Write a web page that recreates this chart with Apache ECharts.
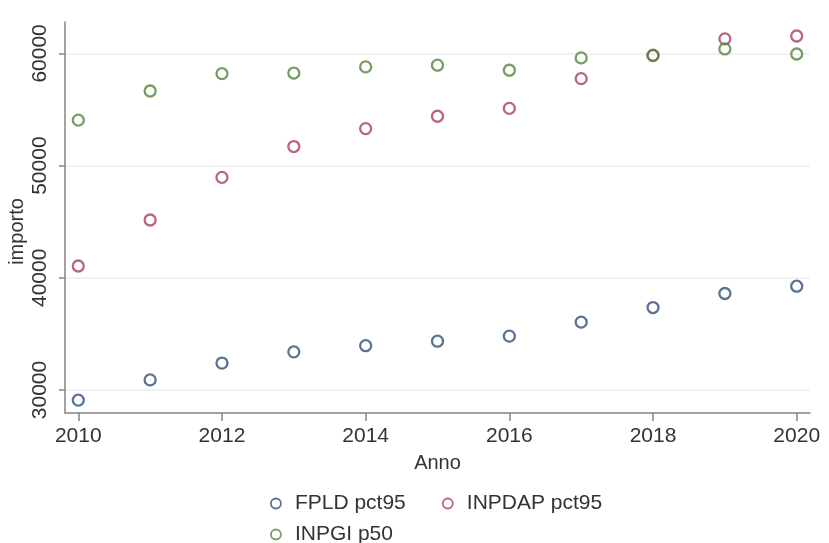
<!DOCTYPE html>
<html>
<head>
<meta charset="utf-8">
<script src="https://cdn.jsdelivr.net/npm/echarts@6/dist/echarts.min.js"></script>
<style>html,body{margin:0;padding:0;background:#fff}#c{width:829px;height:543px}</style>
</head>
<body>
<div id="c"></div>
<script>
var years = [2010, 2011, 2012, 2013, 2014, 2015, 2016, 2017, 2018, 2019, 2020];
var fpldPct95 = [29100, 30900, 32400, 33400, 33950, 34350, 34800, 36050, 37350, 38600, 39250];
var inpdapPct95 = [41050, 45150, 48950, 51700, 53300, 54400, 55100, 57750, 59800, 61300, 61550];
var inpgiP50 = [54050, 56650, 58200, 58250, 58800, 58950, 58500, 59600, 59850, 60400, 59950];
var seriesNames = ['FPLD pct95', 'INPDAP pct95', 'INPGI p50'];
var xTicks = [2010, 2012, 2014, 2016, 2018, 2020];
var yTicks = [30000, 40000, 50000, 60000];

var colors = ['#2f5079', '#a83e62', '#55853a'];
var font = '"Liberation Sans", Arial, Helvetica, sans-serif';
var txt = '#333333';

function pairs(vals) { return years.map(function (y, i) { return [y, vals[i]]; }); }
function mk(name, vals, c) {
  return {
    name: name, type: 'scatter', data: pairs(vals),
    symbol: 'circle', symbolSize: 11,
    itemStyle: { color: 'rgba(255,255,255,0)', borderColor: c, borderWidth: 2.3 },
    emphasis: { disabled: true }
  };
}

var chart = echarts.init(document.getElementById('c'), null, { renderer: 'canvas' });
chart.setOption({
  animation: false,
  backgroundColor: '#ffffff',
  textStyle: { fontFamily: font },
  grid: { left: 65, right: 19, top: 22, bottom: 130, containLabel: false, outerBoundsMode: 'none' },
  xAxis: {
    type: 'value', min: 2009.815, max: 2020.185,
    name: 'Anno', nameLocation: 'middle', nameGap: 40, nameMoveOverlap: false,
    nameTextStyle: { color: txt, fontSize: 20, fontFamily: font },
    axisLine: { show: true, lineStyle: { color: '#858585', width: 1.5 } },
    axisTick: { show: true, customValues: xTicks, length: 8, lineStyle: { color: '#858585', width: 1.5 } },
    axisLabel: { customValues: xTicks, color: txt, fontSize: 21, fontFamily: font, margin: 13,
      formatter: function (v) { return String(v); } },
    splitLine: { show: false }
  },
  yAxis: {
    type: 'value', min: 27950, max: 62800,
    name: 'importo', nameLocation: 'middle', nameGap: 38, nameRotate: 90, nameMoveOverlap: false,
    nameTextStyle: { color: txt, fontSize: 20, fontFamily: font, padding: [0, 28, 0, 0] },
    axisLine: { show: true, lineStyle: { color: '#858585', width: 1.5 } },
    axisTick: { show: true, customValues: yTicks, length: 6, lineStyle: { color: '#858585', width: 1.5 } },
    axisLabel: { customValues: yTicks, rotate: 90, color: txt, fontSize: 21, fontFamily: font, margin: 14,
      formatter: function (v) { return String(v); } },
    splitLine: { show: true, lineStyle: { color: '#ececec', width: 1.5 } }
  },
  legend: {
    data: seriesNames,
    left: 270, top: 493, width: 400,
    orient: 'horizontal',
    itemWidth: 10, itemHeight: 10, itemGap: 10, padding: 0,
    icon: 'circle',
    textStyle: { color: txt, fontSize: 21, fontFamily: font, width: 137, lineHeight: 20, padding: [0, 0, 0, 9] },
    itemStyle: { borderWidth: 1.8 }
  },
  series: [
    mk(seriesNames[0], fpldPct95, colors[0]),
    mk(seriesNames[1], inpdapPct95, colors[1]),
    mk(seriesNames[2], inpgiP50, colors[2])
  ]
});
</script>
</body>
</html>
